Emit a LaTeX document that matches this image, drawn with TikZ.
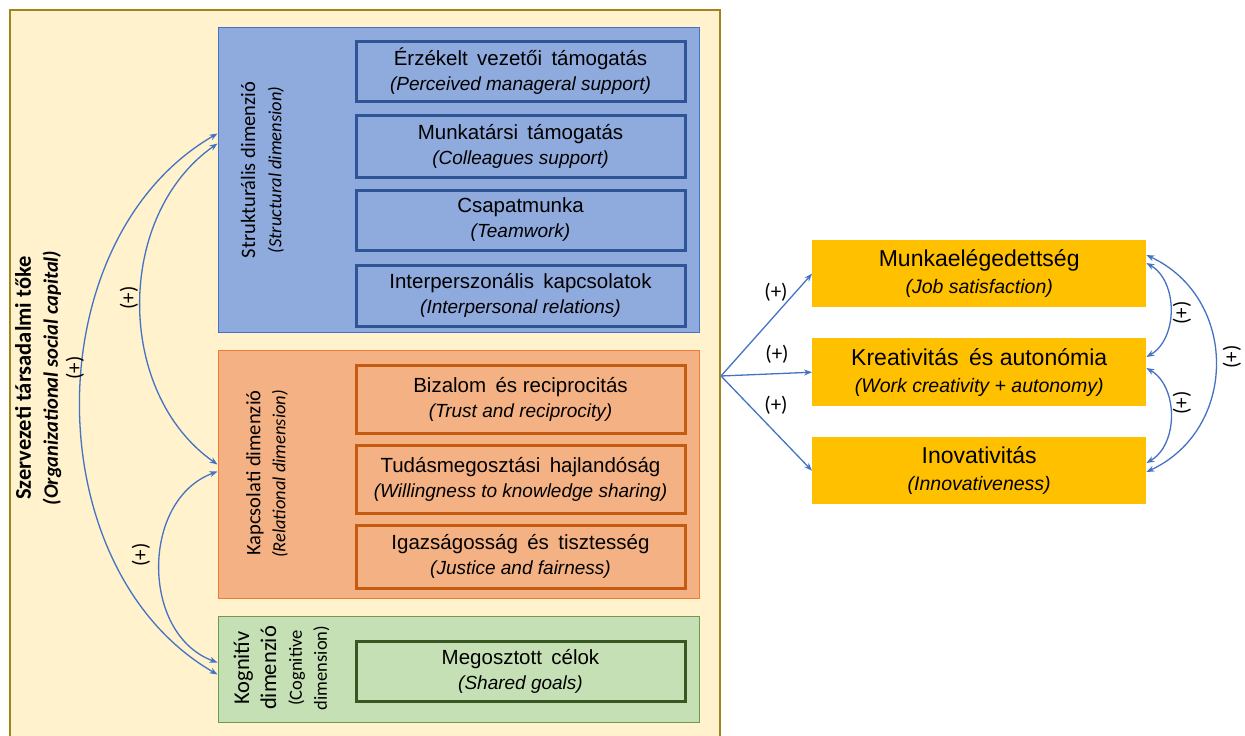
\documentclass[tikz,border=0pt]{standalone}
\usepackage{fontspec}
\setmainfont{Liberation Sans}
\newfontfamily\calfont{Carlito}
\usetikzlibrary{arrows.meta}
\definecolor{outerfill}{HTML}{FFF2CC}
\definecolor{outerdraw}{HTML}{A4831F}
\definecolor{bluefill}{HTML}{8FAADC}
\definecolor{bluedraw}{HTML}{4472C4}
\definecolor{blueinner}{HTML}{2F5597}
\definecolor{orfill}{HTML}{F4B183}
\definecolor{ordraw}{HTML}{ED7D31}
\definecolor{orinner}{HTML}{C55A11}
\definecolor{grfill}{HTML}{C5E0B4}
\definecolor{grdraw}{HTML}{6E9A50}
\definecolor{grinner}{HTML}{385723}
\definecolor{goldfill}{HTML}{FFC000}
\definecolor{arrowblue}{HTML}{4472C4}
\newcommand{\wg}{\hspace{0.18em}}
\tikzset{
  dimbox/.style={rectangle, anchor=north west, line width=1pt, inner sep=0pt},
  itembox/.style={rectangle, anchor=north west, line width=3pt, align=center, inner sep=0pt,
     font=\fontsize{20.5}{24}\selectfont},
  outbox/.style={rectangle, anchor=north west, fill=goldfill, align=center, inner sep=0pt,
     font=\fontsize{23}{27}\selectfont},
  dimlabel/.style={rotate=90, font=\calfont\fontsize{20.5}{24}\selectfont},
  dimsub/.style={rotate=90, font=\calfont\fontsize{18.5}{22}\selectfont\itshape},
  plus/.style={font=\calfont\fontsize{21}{24}\selectfont},
  conn/.style={draw=arrowblue, line width=1.3pt, {Stealth[length=8pt,width=6pt]}-{Stealth[length=8pt,width=6pt]}},
  conn1/.style={draw=arrowblue, line width=1.3pt, -{Stealth[length=8pt,width=6pt]}},
}
\begin{document}
\begin{tikzpicture}[x=1pt,y=-1pt]
\useasboundingbox (0,0) rectangle (1245,736);
\fill[white] (0,0) rectangle (1245,736);

% outer box
\node[dimbox, fill=outerfill, draw=outerdraw, line width=2pt, minimum width=710pt, minimum height=740pt] (outer) at (9,9) {};

% structural dimension
\node[dimbox, fill=bluefill, draw=bluedraw, minimum width=481pt, minimum height=305pt] (struct) at (217.5,26.5) {};
\node[itembox, fill=bluefill, draw=blueinner, minimum width=329pt, minimum height=60pt] (b1) at (354.5,39.5)
  {Érzékelt\wg{} vezetői\wg{} támogatás\\[1pt] {\fontsize{19}{23}\selectfont\itshape (Perceived manageral support)}};
\node[itembox, fill=bluefill, draw=blueinner, minimum width=329pt, minimum height=62pt] (b2) at (354.5,113.5)
  {Munkatársi\wg{} támogatás\\[1pt] {\fontsize{19}{23}\selectfont\itshape (Colleagues support)}};
\node[itembox, fill=bluefill, draw=blueinner, minimum width=329pt, minimum height=60pt] (b3) at (354.5,188.5)
  {Csapatmunka\\[1pt] {\fontsize{19}{23}\selectfont\itshape (Teamwork)}};
\node[itembox, fill=bluefill, draw=blueinner, minimum width=329pt, minimum height=61pt] (b4) at (354.5,263.5)
  {Interperszonális\wg{} kapcsolatok\\[1pt] {\fontsize{19}{23}\selectfont\itshape (Interpersonal relations)}};
\node[dimlabel] (structlab) at (248,170) {Strukturális dimenzió};
\node[dimsub] (structsub) at (276,170) {(Structural dimension)};

% relational dimension
\node[dimbox, fill=orfill, draw=ordraw, minimum width=481pt, minimum height=248pt] (rel) at (217.5,349.5) {};
\node[itembox, fill=orfill, draw=orinner, minimum width=329pt, minimum height=68pt] (o1) at (354.5,363.5)
  {Bizalom\wg{} és reciprocitás\\[1pt] {\fontsize{19}{23}\selectfont\itshape (Trust and reciprocity)}};
\node[itembox, fill=orfill, draw=orinner, minimum width=329pt, minimum height=68pt] (o2) at (354.5,443.5)
  {Tudásmegosztási\wg{} hajlandóság\\[1pt] {\fontsize{19}{23}\selectfont\itshape (Willingness to knowledge sharing)}};
\node[itembox, fill=orfill, draw=orinner, minimum width=329pt, minimum height=63pt] (o3) at (354.5,523.5)
  {Igazságosság\wg{} és\wg{} tisztesség\\[1pt] {\fontsize{19}{23}\selectfont\itshape (Justice and fairness)}};
\node[dimlabel] (rellab) at (255,473) {Kapcsolati dimenzió};
\node[dimsub] (relsub) at (280,474) {(Relational dimension)};

% cognitive dimension
\node[dimbox, fill=grfill, draw=grdraw, minimum width=481pt, minimum height=106pt] (cog) at (217.5,615.5) {};
\node[itembox, fill=grfill, draw=grinner, minimum width=329pt, minimum height=60pt] (g1) at (354.5,639.5)
  {Megosztott\wg{} célok\\[1pt] {\fontsize{19}{23}\selectfont\itshape (Shared goals)}};
\node[rotate=90, align=center, font=\calfont\fontsize{22.5}{27}\selectfont] (coglab) at (255,668)
  {Kognitív\\dimenzió};
\node[rotate=90, align=center, font=\calfont\fontsize{18.5}{25}\selectfont] (cogsub) at (309,668)
  {(Cognitive\\dimension)};

% left title
\node[rotate=90, font=\calfont\bfseries\fontsize{22.5}{26}\selectfont] (title) at (23,378) {Szervezeti társadalmi tőke};
\node[rotate=90, font=\calfont\bfseries\itshape\fontsize{20.5}{24}\selectfont] (titlesub) at (52,378) {(Organizational social capital)};

% left connectors
\coordinate (s1) at ([yshift=-107pt]struct.north west);
\coordinate (s2) at ([yshift=-117pt]struct.north west);
\coordinate (r1) at ([yshift=-115pt]rel.north west);
\coordinate (r2) at ([yshift=-122pt]rel.north west);
\coordinate (c1) at ([yshift=-47pt]cog.north west);
\coordinate (c2) at ([yshift=-59pt]cog.north west);
\draw[conn] (s1) to[bend right=60] (c2);
\draw[conn] (s2) to[bend right=55] (r1);
\draw[conn] (r2) to[bend right=70, looseness=1.1] (c1);
\node[plus, rotate=90] (p1) at (75,368) {(+)};
\node[plus, rotate=90] (p2) at (129,298) {(+)};
\node[plus, rotate=90] (p3) at (141,555) {(+)};

% outcome boxes
\node[outbox, minimum width=334pt, minimum height=67pt] (m) at (812,240)
  {Munkaelégedettség\\[0pt] {\fontsize{19.5}{23}\selectfont\itshape (Job satisfaction)}};
\node[outbox, minimum width=334pt, minimum height=68pt] (k) at (812,338)
  {Kreativitás\wg{} és autonómia\\[0pt] {\fontsize{19.5}{23}\selectfont\itshape (Work creativity + autonomy)}};
\node[outbox, minimum width=334pt, minimum height=67pt] (i) at (812,437)
  {Inovativitás\\[0pt] {\fontsize{19.5}{23}\selectfont\itshape (Innovativeness)}};

\coordinate (hub) at ([yshift=4pt]outer.east);
\draw[conn1] (hub) -- (m.west);
\draw[conn1] (hub) -- (k.west);
\draw[conn1] (hub) -- (i.west);
\node[plus] (q1) at (776,292) {(+)};
\node[plus] (q2) at (777,354) {(+)};
\node[plus] (q3) at (776,405) {(+)};

% right connectors
\coordinate (mA) at ([yshift=-23pt]m.north east);
\coordinate (mC) at ([yshift=-15pt]m.north east);
\coordinate (kA) at ([yshift=-19pt]k.north east);
\coordinate (kB) at ([yshift=-30pt]k.north east);
\coordinate (iB) at ([yshift=-26pt]i.north east);
\coordinate (iC) at ([yshift=-35pt]i.north east);
\draw[conn] (mA) to[bend left=60] (kA);
\draw[conn] (kB) to[bend left=60] (iB);
\draw[conn] (mC) to[bend left=65, looseness=1.2] (iC);
\node[plus, rotate=90] (q4) at (1182,313) {(+)};
\node[plus, rotate=90] (q5) at (1182,403) {(+)};
\node[plus, rotate=90] (q6) at (1232,357) {(+)};
\end{tikzpicture}
\end{document}
